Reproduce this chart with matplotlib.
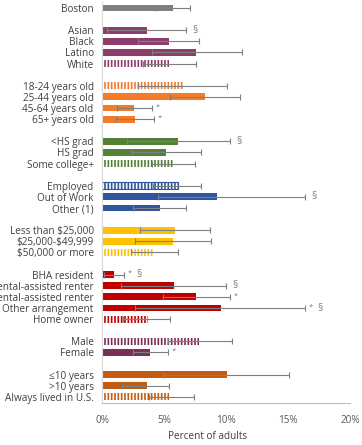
import matplotlib.pyplot as plt

###############################################################################
# Percent of adults, by subgroup
###############################################################################

plt.rcParams['font.family'] = ['Open Sans', 'DejaVu Sans']
plt.rcParams['hatch.linewidth'] = 1.2

# inputs
group_sizes = [1, 4, 4, 3, 3, 3, 5, 2, 3]
labels = ['Boston',
          'Asian', 'Black', 'Latino', 'White',
          '18-24 years old', '25-44 years old', '45-64 years old', '65+ years old',
          '<HS grad', 'HS grad', 'Some college+',
          'Employed', 'Out of Work', 'Other (1)',
          'Less than \\$25,000', '\\$25,000-\\$49,999', '\\$50,000 or more',
          'BHA resident', 'Rental-assisted renter', 'Non-rental-assisted renter',
          'Other arrangement', 'Home owner',
          'Male', 'Female',
          '\u226410 years', '>10 years', 'Always lived in U.S.']
values = [5.7,
          3.6, 5.4, 7.6, 5.4,
          6.5, 8.3, 2.6, 2.7,
          6.1, 5.2, 5.7,
          6.1, 9.3, 4.7,
          5.9, 5.7, 4.1,
          1.0, 5.8, 7.6, 9.6, 3.7,
          7.8, 3.9,
          10.1, 3.6, 5.4]
ci_low = [4.3,
          0.4, 2.9, 4.0, 3.3,
          2.9, 5.5, 1.2, 1.1,
          2.0, 2.4, 4.0,
          4.1, 4.5, 2.5,
          3.1, 2.7, 2.3,
          0.2, 1.5, 4.9, 2.7, 1.7,
          5.3, 2.5,
          4.9, 1.6, 3.8]
ci_high = [7.1,
           6.8, 7.8, 11.3, 7.6,
           10.1, 11.1, 4.0, 4.2,
           10.3, 8.0, 7.5,
           8.0, 16.4, 6.8,
           8.7, 8.8, 6.1,
           1.8, 10.0, 10.3, 16.4, 5.5,
           10.5, 5.3,
           15.1, 5.4, 7.4]
group_colors = ['#7f7f7f', '#8e3c6c', '#f47b2a', '#548235', '#2f55a0',
                '#ffc000', '#c00000', '#7a2f58', '#c55a11']
# reference groups are drawn with vertical stripes
hatched = ['White', '18-24 years old', 'Some college+', 'Employed',
           '\\$50,000 or more', 'Home owner', 'Male', 'Always lived in U.S.']
# significance marks: (asterisk, section sign)
notes = {'Asian': ('', '\u00a7'), '45-64 years old': ('*', ''), '65+ years old': ('*', ''),
         '<HS grad': ('', '\u00a7'), 'Out of Work': ('', '\u00a7'),
         'BHA resident': ('*', '\u00a7'), 'Rental-assisted renter': ('', '\u00a7'),
         'Non-rental-assisted renter': ('*', ''), 'Other arrangement': ('*', '\u00a7'),
         'Female': ('*', '')}

# row positions with a blank row between groups
ypos, colors = [], []
row = 0
for g, n in enumerate(group_sizes):
    for i in range(n):
        ypos.append(row)
        colors.append(group_colors[g])
        row += 1
    row += 1

fig = plt.figure(figsize=(3.62, 4.45), dpi=100)
ax = fig.add_axes([0.2818, 0.0944, 0.6851, 0.90])

for y, lab, v, c in zip(ypos, labels, values, colors):
    if lab in hatched:
        ax.barh(y, v, height=0.62, color='white', edgecolor=c, hatch='|||||', linewidth=0)
        if lab == 'Employed':
            ax.barh(y, v, height=0.62, fill=False, edgecolor=c, linewidth=0.8)
    else:
        ax.barh(y, v, height=0.62, color=c)

xerr = [[v - lo for v, lo in zip(values, ci_low)], [hi - v for v, hi in zip(values, ci_high)]]
ax.errorbar(values, ypos, xerr=xerr, fmt='none', ecolor='#7f7f7f', elinewidth=0.8,
            capsize=2.2, capthick=0.8)

for y, lab, hi in zip(ypos, labels, ci_high):
    if lab in notes:
        star, sect = notes[lab]
        if star:
            ax.text(hi + 0.3, y - 0.1, star, va='center', ha='left', fontsize=5.5, color='#7f7f7f')
        if sect:
            ax.text(hi + (1.0 if star else 0.5), y, sect, va='center', ha='left',
                    fontsize=7.5, color='#7f7f7f')

ax.set_yticks(ypos)
ax.set_yticklabels(labels, fontsize=7.2, color='#404040')
ax.set_ylim(35.55, -0.5)
ax.set_xlim(0, 20)
ax.set_xticks([0, 5, 10, 15, 20])
ax.set_xticklabels(['0%', '5%', '10%', '15%', '20%'], fontsize=7.2, color='#595959')
ax.tick_params(length=0, pad=6)
ax.tick_params(axis='x', pad=9)
ax.set_xlabel('Percent of adults', fontsize=7.2, color='#404040', va='center')
ax.xaxis.set_label_coords(0.427, -0.083)
for s in ['top', 'right']:
    ax.spines[s].set_visible(False)
ax.spines['left'].set_color('#d9d9d9')
ax.spines['bottom'].set_color('#bfbfbf')
ax.spines['left'].set_linewidth(0.8)
ax.spines['bottom'].set_linewidth(0.8)

plt.savefig('out.png', dpi=100)
